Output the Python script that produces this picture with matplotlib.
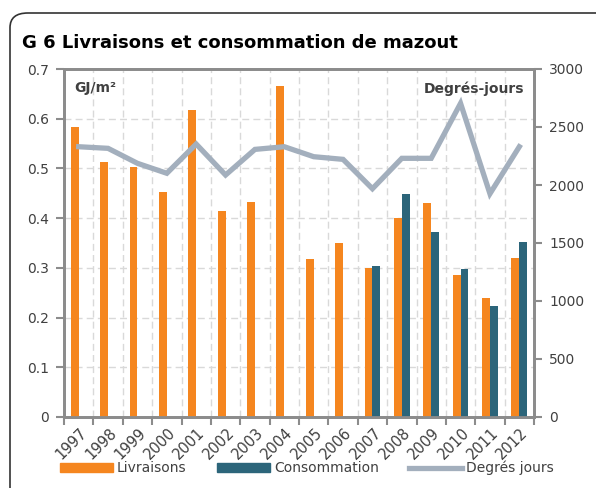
import numpy as np
import matplotlib
matplotlib.use("Agg")
import matplotlib.pyplot as plt
import matplotlib.transforms as mtransforms
from matplotlib.patches import FancyBboxPatch, Patch
from matplotlib.lines import Line2D

years = ["1997", "1998", "1999", "2000", "2001", "2002", "2003", "2004",
         "2005", "2006", "2007", "2008", "2009", "2010", "2011", "2012"]
livraisons = [0.583, 0.512, 0.503, 0.452, 0.618, 0.414, 0.433, 0.666,
              0.318, 0.351, 0.300, 0.400, 0.431, 0.286, 0.239, 0.319]
consommation = [np.nan] * 10 + [0.304, 0.448, 0.372, 0.298, 0.224, 0.353]
degres_jours = [2330, 2316, 2187, 2101, 2353, 2086, 2307, 2330,
                2244, 2221, 1968, 2230, 2230, 2704, 1925, 2330]

ORANGE = "#F5861F"
BLUE = "#2C657A"
LINE = "#A3AFBD"
SPINE = "#8C8C8C"
TXT = "#404040"

plt.rcParams["font.family"] = ["DejaVu Sans"]

fig = plt.figure(figsize=(5.96, 4.88), dpi=100)
ax = fig.add_axes([64 / 596, 1 - 417 / 488, 470 / 596, 348 / 488])
ax2 = ax.twinx()

x = np.arange(len(years))
w = 0.27
ax.bar(x - w / 2, livraisons, w, color=ORANGE, zorder=3)
ax.bar(x + w / 2, consommation, w, color=BLUE, zorder=3)
ax2.plot(x, degres_jours, color=LINE, lw=3.8, solid_joinstyle="miter", zorder=4)

ax.set_xlim(-0.5, len(years) - 0.5)
ax.set_ylim(0, 0.7)
ax2.set_ylim(0, 3000)
ax.set_yticks(np.arange(0, 0.71, 0.1))
ax.set_yticklabels(["0", "0.1", "0.2", "0.3", "0.4", "0.5", "0.6", "0.7"])
ax2.set_yticks(np.arange(0, 3001, 500))

ax.set_xticks(x)
ax.set_xticklabels(years, rotation=45, ha="right", rotation_mode="anchor")
ax.set_xticks(np.arange(-0.5, len(years)), minor=True)
ax.tick_params(axis="x", which="major", length=0, pad=6, labelsize=10.5, colors=TXT)
ax.tick_params(axis="x", which="minor", length=6, width=1.5, color=SPINE)
ax.tick_params(axis="y", length=6, width=1.5, color=SPINE, labelcolor=TXT, labelsize=10, pad=5)
ax2.tick_params(axis="y", length=6, width=1.5, color=SPINE, labelcolor=TXT, labelsize=10, pad=5)

# nudge the rotated year labels a little
shift = mtransforms.ScaledTranslation(1 / 100, 0, fig.dpi_scale_trans)
for lbl in ax.get_xticklabels():
    lbl.set_transform(lbl.get_transform() + shift)

ax.grid(axis="y", color="#D9D9D9", ls=(0, (5, 3)), lw=1, zorder=0)
ax.grid(axis="x", which="minor", color="#D9D9D9", ls=(0, (5, 3)), lw=1, zorder=0)
ax.set_axisbelow(True)

for a in (ax, ax2):
    for s in a.spines.values():
        s.set_color(SPINE)
        s.set_linewidth(2)

ax.text(0.022, 0.965, "GJ/m²", transform=ax.transAxes, fontsize=10,
        fontweight="bold", color=TXT, va="top", ha="left")
ax.text(0.98, 0.965, "Degrés-jours", transform=ax.transAxes, fontsize=10,
        fontweight="bold", color=TXT, va="top", ha="right")

fig.text(22 / 596, 1 - 43 / 488, "G 6 Livraisons et consommation de mazout",
         fontsize=13, fontweight="bold", color="black", va="center", ha="left")

handles = [Patch(color=ORANGE), Patch(color=BLUE), Line2D([], [], color=LINE, lw=3.8)]
fig.legend(handles, ["Livraisons", "Consommation", "Degrés jours"],
           loc="center", bbox_to_anchor=(0.515, 1 - 468 / 488), ncol=3,
           frameon=False, fontsize=10, handlelength=3.8, handleheight=0.6,
           columnspacing=2.2, handletextpad=0.3, labelcolor=TXT)

box = FancyBboxPatch((10 / 596, -0.1), 1.2, 1 - 13 / 488 + 0.1,
                     boxstyle="round,pad=0,rounding_size=0.03",
                     transform=fig.transFigure, fill=False,
                     edgecolor="#333333", lw=1.2)
fig.patches.append(box)

fig.savefig("out.png", dpi=100)
